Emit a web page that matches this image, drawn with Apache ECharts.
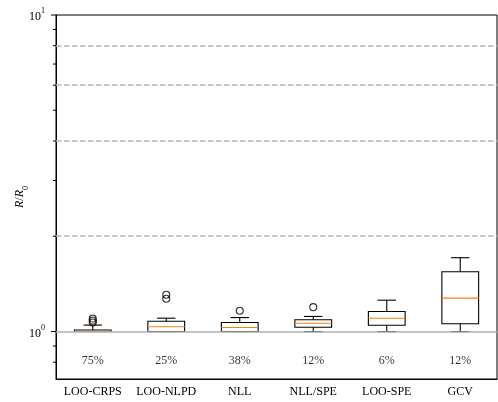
<!DOCTYPE html>
<html>
<head>
<meta charset="utf-8">
<script src="https://cdn.jsdelivr.net/npm/echarts@6/dist/echarts.min.js"></script>
<style>
html,body{margin:0;padding:0;background:#fff;}
#c{width:498px;height:402px;}
</style>
</head>
<body>
<div id="c"></div>
<script>
const categories = ['LOO-CRPS', 'LOO-NLPD', 'NLL', 'NLL/SPE', 'LOO-SPE', 'GCV'];
const whiskerLow = [1.0, 1.0, 1.0, 1.0, 1.0, 1.0];
const q1 = [1.0, 1.0, 1.0, 1.032, 1.047, 1.058];
const median = [1.0, 1.035, 1.03, 1.062, 1.102, 1.275];
const q3 = [1.011, 1.078, 1.068, 1.089, 1.157, 1.545];
const whiskerHigh = [1.048, 1.102, 1.107, 1.116, 1.256, 1.711];
const outliers = [[0, 1.099], [0, 1.083], [0, 1.068], [1, 1.307], [1, 1.269], [2, 1.163], [3, 1.194]];
const percentLabels = ['75%', '25%', '38%', '12%', '6%', '12%'];
const percentLabelY = 0.81;
const dashedLevels = [2, 4, 6, 8];
const refLevel = 1;
const majorTicks = [1, 10];
const minorTicks = [0.8, 0.9, 2, 3, 4, 5, 6, 7, 8, 9];
const yMin = 0.708, yMax = 10;

const serif = "'Liberation Serif', 'DejaVu Serif', serif";
const chart = echarts.init(document.getElementById('c'), null, {renderer: 'canvas'});

const boxData = categories.map((c, i) => [i, whiskerLow[i], q1[i], median[i], q3[i], whiskerHigh[i]]);
const tickData = majorTicks.map(v => [0, v, 1]).concat(minorTicks.map(v => [0, v, 0]));

const option = {
  animation: false,
  backgroundColor: '#fff',
  grid: {left: 56, right: 1, top: 15, bottom: 23, containLabel: false, outerBoundsMode: 'none', show: true, borderColor: '#000', borderWidth: 1, backgroundColor: 'transparent'},
  xAxis: {
    type: 'category',
    data: categories,
    boundaryGap: true,
    axisLine: {lineStyle: {color: '#000', width: 1}},
    axisTick: {alignWithLabel: true, length: 4.5, lineStyle: {color: '#000'}},
    axisLabel: {color: '#000', fontFamily: serif, fontSize: 12, margin: 7, interval: 0, hideOverlap: false},
    splitLine: {show: false}
  },
  yAxis: {
    type: 'log',
    logBase: 10,
    min: yMin,
    max: yMax,
    axisLine: {show: true, lineStyle: {color: '#000', width: 1}},
    axisTick: {show: false},
    splitLine: {show: false},
    minorTick: {show: false},
    axisLabel: {
      color: '#000', fontFamily: serif, fontSize: 12, margin: 11,
      formatter: function (v) {
        if (Math.abs(v - 1) < 1e-6) return '{b|10}{sup|0}';
        if (Math.abs(v - 10) < 1e-6) return '{b|10}{sup|1}';
        return '';
      },
      rich: {
        b: {fontFamily: serif, fontSize: 12, color: '#000', lineHeight: 16, verticalAlign: 'bottom'},
        sup: {fontFamily: serif, fontSize: 8, color: '#000', lineHeight: 16, verticalAlign: 'top'}
      }
    },
    name: '{i|R}{n|/}{i|R}{s|0}',
    nameLocation: 'middle',
    nameGap: 26,
    nameMoveOverlap: false,
    nameTextStyle: {
      color: '#000', fontFamily: serif, fontSize: 12,
      rich: {
        i: {fontFamily: serif, fontStyle: 'italic', fontSize: 12, color: '#000', lineHeight: 16, verticalAlign: 'top'},
        n: {fontFamily: serif, fontSize: 12, color: '#000', lineHeight: 16, verticalAlign: 'top'},
        s: {fontFamily: serif, fontSize: 8, color: '#000', lineHeight: 16, verticalAlign: 'bottom'}
      }
    }
  },
  series: [
    {
      type: 'line',
      data: [],
      z: 1,
      silent: true,
      markLine: {
        silent: true,
        symbol: 'none',
        label: {show: false},
        animation: false,
        data: dashedLevels.map(v => ({yAxis: v, lineStyle: {color: '#b8b8b8', width: 1.5, type: [5.5, 2.5]}}))
          .concat([{yAxis: refLevel, lineStyle: {color: '#b0b0b0', width: 1.5, type: 'solid'}}])
      }
    },
    {
      type: 'custom',
      z: 3,
      silent: true,
      data: boxData,
      encode: {x: 0, y: [1, 2, 3, 4, 5]},
      renderItem: function (params, api) {
        const i = api.value(0);
        const bandW = params.coordSys.width / categories.length;
        const bw = bandW * 0.5;
        const cw = bandW * 0.25;
        const pLo = api.coord([i, api.value(1)]);
        const pQ1 = api.coord([i, api.value(2)]);
        const pMed = api.coord([i, api.value(3)]);
        const pQ3 = api.coord([i, api.value(4)]);
        const pHi = api.coord([i, api.value(5)]);
        const cx = pLo[0];
        const black = {stroke: '#000', lineWidth: 1.1, fill: null};
        return {
          type: 'group',
          children: [
            {type: 'line', shape: {x1: cx, y1: pQ1[1], x2: cx, y2: pLo[1]}, style: black},
            {type: 'line', shape: {x1: cx, y1: pQ3[1], x2: cx, y2: pHi[1]}, style: black},
            {type: 'line', shape: {x1: cx - cw / 2, y1: pLo[1], x2: cx + cw / 2, y2: pLo[1]}, style: black},
            {type: 'line', shape: {x1: cx - cw / 2, y1: pHi[1], x2: cx + cw / 2, y2: pHi[1]}, style: black},
            {type: 'rect', shape: {x: cx - bw / 2, y: pQ3[1], width: bw, height: pQ1[1] - pQ3[1]}, style: {stroke: '#000', lineWidth: 1.1, fill: 'none'}},
            {type: 'line', shape: {x1: cx - bw / 2, y1: pMed[1], x2: cx + bw / 2, y2: pMed[1]}, style: {stroke: '#ff7f0e', lineWidth: 1.1}}
          ]
        };
      }
    },
    {
      type: 'scatter',
      z: 4,
      silent: true,
      symbol: 'circle',
      symbolSize: 7,
      itemStyle: {color: 'rgba(0,0,0,0)', borderColor: '#000', borderWidth: 1.1},
      data: outliers
    },
    {
      type: 'scatter',
      z: 4,
      silent: true,
      symbolSize: 0,
      data: percentLabels.map((t, i) => ({value: [i, percentLabelY], name: t})),
      label: {
        show: true, position: 'inside', formatter: '{b}',
        color: '#000', fontFamily: serif, fontSize: 12
      }
    },
    {
      type: 'custom',
      z: 5,
      silent: true,
      clip: false,
      data: tickData,
      encode: {x: 0, y: 1},
      renderItem: function (params, api) {
        const p = api.coord([0, api.value(1)]);
        const x0 = params.coordSys.x;
        const len = api.value(2) === 1 ? 5 : 3;
        return {type: 'line', shape: {x1: x0 - len, y1: p[1], x2: x0, y2: p[1]}, style: {stroke: '#000', lineWidth: 1}};
      }
    }
  ]
};
chart.setOption(option);
</script>
</body>
</html>
